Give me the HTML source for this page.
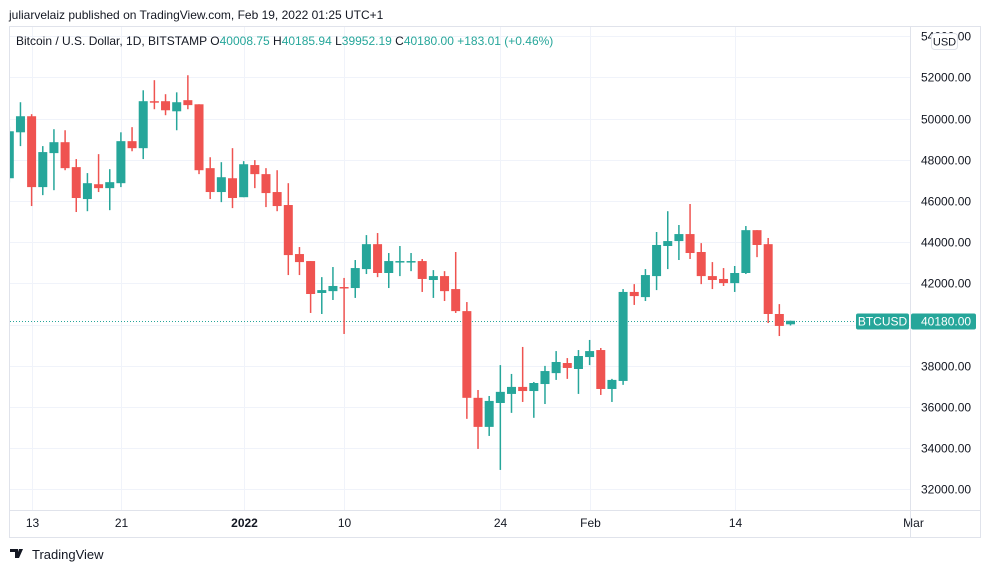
<!DOCTYPE html>
<html><head><meta charset="utf-8"><style>
body{margin:0;width:990px;height:573px;background:#fff;overflow:hidden;font-family:"Liberation Sans","DejaVu Sans",sans-serif}
svg{position:absolute;left:0;top:0}
</style></head><body>
<svg id="chart" width="990" height="573" xmlns="http://www.w3.org/2000/svg">
<text x="9" y="19" font-size="12" fill="#131722">juliarvelaiz published on TradingView.com, Feb 19, 2022 01:25 UTC+1</text>
<rect x="9.5" y="26.5" width="971" height="511" fill="none" stroke="#e0e3eb"/>
<g id="grid"></g>
<g id="candles"></g>
<g id="axes"></g>
<text x="16" y="45" font-size="12"><tspan fill="#131722">Bitcoin / U.S. Dollar, 1D, BITSTAMP  O</tspan><tspan fill="#26a69a">40008.75</tspan><tspan fill="#131722">  H</tspan><tspan fill="#26a69a">40185.94</tspan><tspan fill="#131722">  L</tspan><tspan fill="#26a69a">39952.19</tspan><tspan fill="#131722">  C</tspan><tspan fill="#26a69a">40180.00  +183.01 (+0.46%)</tspan></text>
<g>
<path d="M10 549h8v9h-3v-6h-5z M19 549h4l-4 9h-3z" fill="#131722"/>
<text x="32" y="559" font-size="13" fill="#131722">TradingView</text>
</g>
</svg>
<script>
const dates=["Dec 11","Dec 12","Dec 13","Dec 14","Dec 15","Dec 16","Dec 17","Dec 18","Dec 19","Dec 20","Dec 21","Dec 22","Dec 23","Dec 24","Dec 25","Dec 26","Dec 27","Dec 28","Dec 29","Dec 30","Dec 31","Jan 1","Jan 2","Jan 3","Jan 4","Jan 5","Jan 6","Jan 7","Jan 8","Jan 9","Jan 10","Jan 11","Jan 12","Jan 13","Jan 14","Jan 15","Jan 16","Jan 17","Jan 18","Jan 19","Jan 20","Jan 21","Jan 22","Jan 23","Jan 24","Jan 25","Jan 26","Jan 27","Jan 28","Jan 29","Jan 30","Jan 31","Feb 1","Feb 2","Feb 3","Feb 4","Feb 5","Feb 6","Feb 7","Feb 8","Feb 9","Feb 10","Feb 11","Feb 12","Feb 13","Feb 14","Feb 15","Feb 16","Feb 17","Feb 18","Feb 19"];
const opens=[47100,49330,50110,46670,48320,48850,47640,46090,46810,46620,46860,48900,48560,50840,50840,50350,50890,50690,47590,46430,47100,46180,47740,47300,46430,45800,43420,43080,41530,41620,41820,41770,42690,43900,42500,43050,43050,43080,42160,42350,41720,40650,36440,35030,36190,36630,36970,36770,37110,37640,38130,37840,38420,38760,36870,37260,41580,41330,42350,43810,44050,44390,43520,42350,42210,42010,42500,44580,43900,40510,40008.75];
const highs=[49600,50790,50210,48660,49480,49430,48030,47350,48270,47540,49330,49580,51370,51860,51180,51270,52100,50690,48120,47880,48560,47930,47980,47590,47490,46860,43760,43080,42300,42790,42260,43130,44340,44440,43470,43810,43470,43180,42640,42590,43520,41090,36820,36530,38030,37600,38910,37210,37990,38710,38370,38760,39250,38860,37360,41720,41960,42690,44490,45500,44830,45850,43950,43030,42740,42840,44780,44580,44200,40990,40185.94];
const lows=[46900,48660,45750,46280,46520,47490,45460,45500,46430,45550,46670,48410,48030,50450,50160,49430,50450,47300,46090,45940,45650,46180,46620,45700,45500,42400,42400,40560,40510,41190,39540,41290,42450,42300,41770,42350,42590,41580,41290,41140,40560,35420,33960,34590,32940,35710,36240,35470,36140,37310,37360,36630,38030,36580,36240,37070,40950,41140,41670,42690,43130,43180,41960,41720,41870,41580,42450,43270,40070,39440,39952.19];
const closes=[49380,50110,46670,48370,48850,47590,46140,46860,46620,46910,48900,48560,50840,50790,50400,50790,50650,47490,46430,47150,46140,47780,47300,46380,45750,43370,43030,41480,41670,41870,41770,42740,43900,42500,43080,43080,43080,42210,42350,41620,40650,36440,35030,36290,36730,36970,36770,37160,37740,38180,37890,38470,38710,36870,37310,41580,41380,42400,43860,44050,44390,43470,42350,42160,42010,42500,44580,43860,40510,39930,40180];
const priceTicks=[54000,52000,50000,48000,46000,44000,42000,40000,38000,36000,34000,32000];
const timeLabels=["13","21","2022","10","24","Feb","14","Mar"];
const timeLabelDays=[2,10,21,30,44,52,65,81];
const lastPrice=40180;

const NS="http://www.w3.org/2000/svg";
const X0=9.3, DX=11.16;
function xScale(i){return X0+i*DX;}
function yScale(p){return 324.5-(p-40000)*0.0206;}
function mk(tag,attrs,parent){const e=document.createElementNS(NS,tag);for(const k in attrs)e.setAttribute(k,attrs[k]);parent.appendChild(e);return e;}
const grid=document.getElementById('grid'),cg=document.getElementById('candles'),ax=document.getElementById('axes');
// clip
const defs=mk('defs',{},document.getElementById('chart'));
const cp=mk('clipPath',{id:'plot'},defs);mk('rect',{x:10,y:27,width:900,height:483},cp);
cg.setAttribute('clip-path','url(#plot)');
priceTicks.forEach(p=>{
  const y=Math.round(yScale(p))+0.5;
  const l=mk('line',{x1:10,x2:910,y1:y,y2:y,stroke:'#f0f3fa'},grid);
  
  
  const t=mk('text',{x:921,y:y+4,'font-size':12,fill:'#131722'},ax);
  t.textContent=p.toFixed(2);
  
  
});
timeLabels.forEach((s,i)=>{
  const x=Math.round(xScale(timeLabelDays[i]))+0.5;
  if(x<910){const l=mk('line',{x1:x,x2:x,y1:27,y2:510,stroke:'#f0f3fa'},grid);
  
  }
  const t=mk('text',{x:x,y:527,'font-size':12,fill:'#131722','text-anchor':'middle','font-weight':s==='2022'?'bold':'normal'},ax);
  t.textContent=s;
  
  
});
mk('line',{x1:910.5,x2:910.5,y1:27,y2:537,stroke:'#e0e3eb'},ax);
mk('line',{x1:10,x2:980,y1:510.5,y2:510.5,stroke:'#e0e3eb'},ax);
// USD badge over 54000
const ub=mk('rect',{x:931.5,y:33.5,width:26,height:16,rx:3,fill:'#fff',stroke:'#e0e3eb'},ax);


const ut=mk('text',{x:944.5,y:45.5,'font-size':11,fill:'#131722','text-anchor':'middle'},ax);ut.textContent='USD';
closes.forEach((c,i)=>{
  const o=opens[i],up=c>=o,col=up?'#26a69a':'#ef5350';
  const x=xScale(i);
  const w=mk('line',{x1:x,x2:x,y1:yScale(highs[i]),y2:yScale(lows[i]),stroke:col,'stroke-width':1.5},cg);
  
  
  const top=yScale(Math.max(o,c)),bot=yScale(Math.min(o,c));
  const b=mk('rect',{x:x-4.5,y:top,width:9,height:Math.max(1.5,bot-top),fill:col},cg);
  
  
});
const ly=Math.round(yScale(lastPrice))+0.5;
const pl=mk('line',{x1:10,x2:910,y1:ly,y2:ly,stroke:'#26a69a','stroke-dasharray':'1 2'},grid);


const sb=mk('rect',{x:856,y:ly-8,width:53,height:16,rx:2,fill:'#26a69a'},ax);


const st=mk('text',{x:882.5,y:ly+4,'font-size':12,fill:'#fff','text-anchor':'middle'},ax);st.textContent='BTCUSD';
const pb=mk('rect',{x:911,y:ly-8,width:65,height:16,rx:2,fill:'#26a69a'},ax);


const pt=mk('text',{x:921,y:ly+4,'font-size':12,fill:'#fff'},ax);pt.textContent=lastPrice.toFixed(2);
</script>
</body></html>
